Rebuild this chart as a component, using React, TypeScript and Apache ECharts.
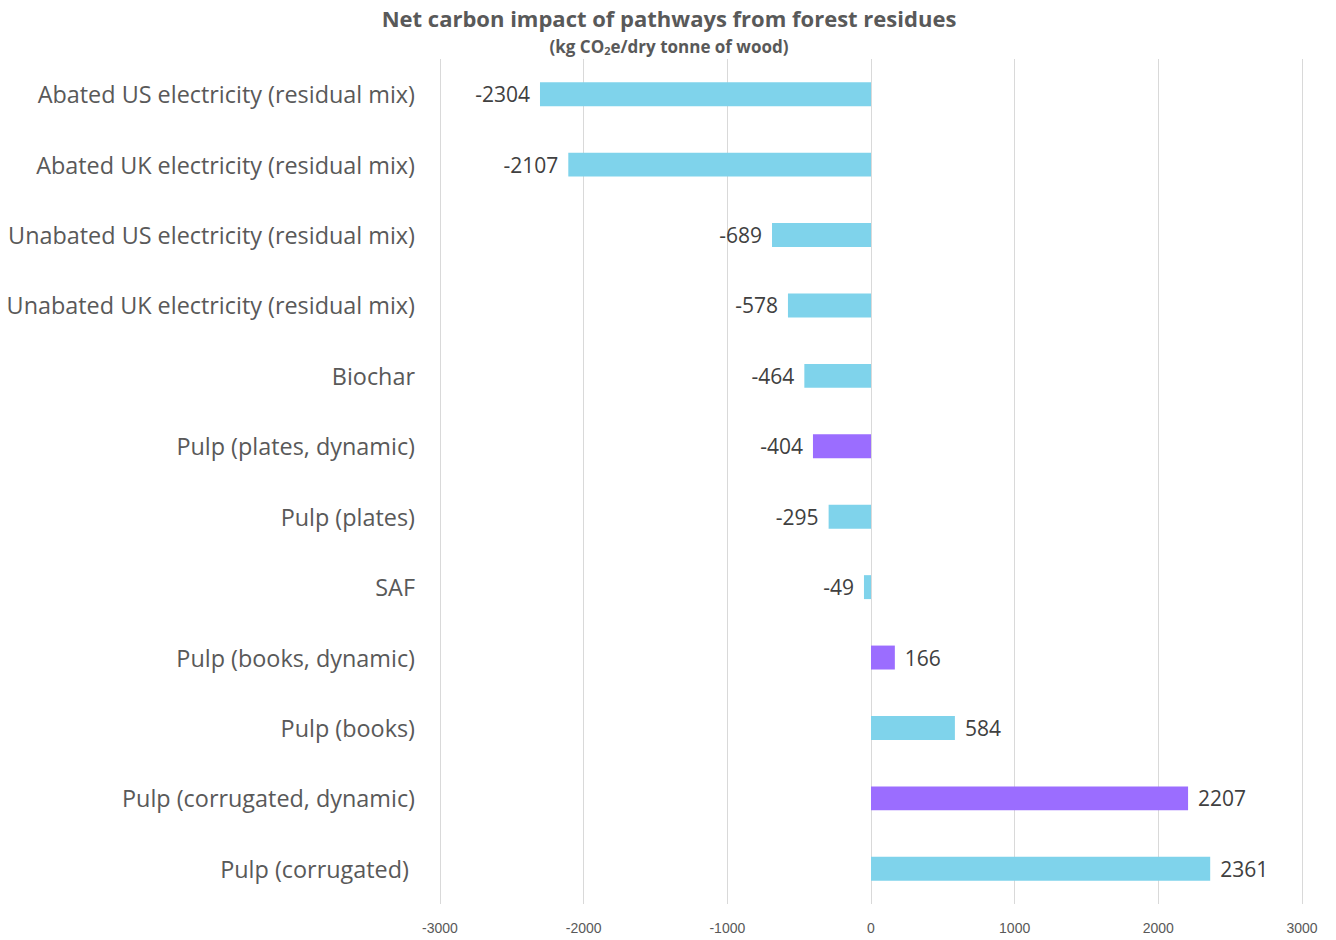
import React, { useEffect, useRef } from "react";
import * as echarts from "echarts";

const categories = [
  "Abated US electricity (residual mix)",
  "Abated UK electricity (residual mix)",
  "Unabated US electricity (residual mix)",
  "Unabated UK electricity (residual mix)",
  "Biochar",
  "Pulp (plates, dynamic)",
  "Pulp (plates)",
  "SAF",
  "Pulp (books, dynamic)",
  "Pulp (books)",
  "Pulp (corrugated, dynamic)",
  "Pulp (corrugated) ",
];
const values = [-2304, -2107, -689, -578, -464, -404, -295, -49, 166, 584, 2207, 2361];
const isDynamic = [false, false, false, false, false, true, false, false, true, false, true, false];

const BLUE = "#7fd3eb";
const PURPLE = "#9b6dff";

export default function App() {
  const ref = useRef<HTMLDivElement>(null);
  useEffect(() => {
    if (!ref.current) return;
    const chart = echarts.init(ref.current, undefined, { renderer: "svg" });
    chart.setOption({
      animation: false,
      backgroundColor: "#ffffff",
      title: {
        text: "Net carbon impact of pathways from forest residues",
        subtext: "{a|(kg CO}{s|2}{a|e/dry tonne of wood)}",
        left: 664,
        textAlign: "center",
        top: 2,
        itemGap: 6,
        textStyle: {
          fontFamily: "Open Sans",
          fontWeight: "bold",
          fontSize: 22,
          color: "#595959",
        },
        subtextStyle: {
          rich: {
            a: { fontFamily: "Open Sans", fontWeight: "bold", fontSize: 17, color: "#595959", lineHeight: 22 },
            s: { fontFamily: "Open Sans", fontWeight: "bold", fontSize: 11, color: "#595959", lineHeight: 22, padding: [9, 0, 0, 0] },
          },
        },
      },
      grid: { left: 440, right: 34, top: 59, bottom: 36, containLabel: false },
      xAxis: {
        type: "value",
        min: -3000,
        max: 3000,
        interval: 1000,
        axisLine: { show: false },
        axisTick: { show: false },
        splitLine: { show: true, lineStyle: { color: "#d9d9d9", width: 1 } },
        axisLabel: {
          fontFamily: "Liberation Sans",
          fontSize: 14,
          color: "#595959",
          margin: 17,
          formatter: (v: number) => String(v),
        },
      },
      yAxis: {
        type: "category",
        inverse: true,
        data: categories,
        axisLine: { show: false },
        axisTick: { show: false },
        splitLine: { show: false },
        axisLabel: {
          fontFamily: "Open Sans",
          fontSize: 23.4,
          color: "#595959",
          margin: 25,
        },
      },
      series: [
        {
          type: "bar",
          barWidth: "34%",
          data: values.map((v, i) => ({
            value: v,
            itemStyle: { color: isDynamic[i] ? PURPLE : BLUE },
            label: {
              show: true,
              position: v < 0 ? "left" : "right",
              distance: 10,
              fontFamily: "Open Sans",
              fontSize: 21,
              color: "#404040",
            },
          })),
        },
      ],
    });
    return () => chart.dispose();
  }, []);
  return (
    <div
      ref={ref}
      style={{ position: "absolute", left: 0, top: 0, width: 1336, height: 940 }}
    />
  );
}
